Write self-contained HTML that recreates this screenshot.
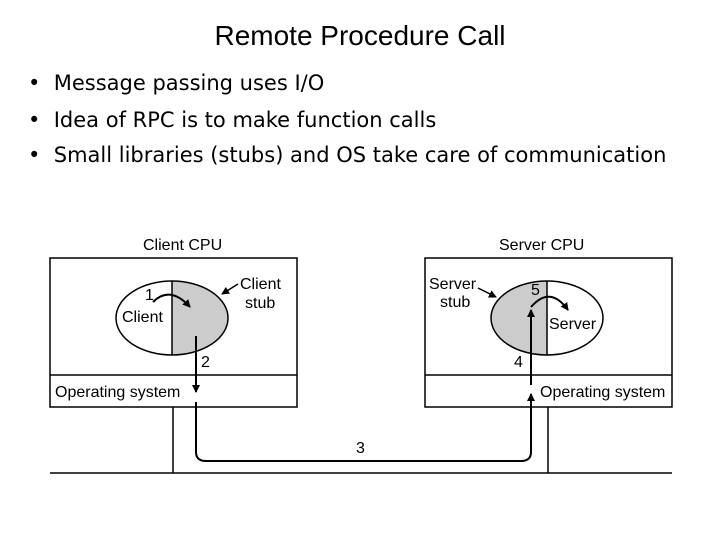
<!DOCTYPE html>
<html><head><style>
body{margin:0;background:#fff;width:720px;height:540px;overflow:hidden}
.t{position:absolute;font-family:"DejaVu Sans","Liberation Sans",sans-serif;color:#000}
.b{position:absolute;left:0;font-size:21px;white-space:nowrap}
</style></head><body>
<div class="t" style="left:0;width:720px;top:20px;text-align:center;font-size:28px;font-family:'Liberation Sans',sans-serif">Remote Procedure Call</div>
<div class="t" style="left:28px;top:71px;width:700px;font-family:'DejaVu Sans',sans-serif">
<div class="b" style="top:0">•&nbsp;&nbsp;Message passing uses I/O</div>
<div class="b" style="top:37px">•&nbsp;&nbsp;Idea of RPC is to make function calls</div>
<div class="b" style="top:72px">•&nbsp;&nbsp;Small libraries (stubs) and OS take care of communication</div>
</div>
<svg width="720" height="540" style="position:absolute;left:0;top:0" font-family="Liberation Sans, sans-serif" font-size="16">
<defs><marker id="a" markerWidth="8" markerHeight="8" refX="7" refY="4" orient="auto" markerUnits="userSpaceOnUse"><path d="M0,0 L8,4 L0,8 z"/></marker></defs>
<g fill="none" stroke="#000" stroke-width="1.5">
<rect x="50" y="258" width="247" height="149"/><line x1="50" y1="375" x2="297" y2="375"/>
<rect x="425" y="258" width="247" height="149"/><line x1="425" y1="375" x2="672" y2="375"/>
<line x1="173" y1="407" x2="173" y2="473"/><line x1="548" y1="407" x2="548" y2="473"/>
<line x1="50" y1="473" x2="672" y2="473"/>
</g>
<path d="M172,281 A56,37 0 0 1 172,355 Z" fill="#ccc"/>
<ellipse cx="172" cy="318" rx="56" ry="37" fill="none" stroke="#000" stroke-width="1.5"/>
<line x1="172" y1="281" x2="172" y2="355" stroke="#000" stroke-width="1.5"/>
<path d="M547,281 A56,37 0 0 0 547,355 Z" fill="#ccc"/>
<ellipse cx="547" cy="318" rx="56" ry="37" fill="none" stroke="#000" stroke-width="1.5"/>
<line x1="547" y1="281" x2="547" y2="355" stroke="#000" stroke-width="1.5"/>
<g fill="none" stroke="#000" stroke-width="2">
<path d="M153,302 Q170,285 190,307" marker-end="url(#a)"/>
<path d="M531,307 Q550,285 568,310" marker-end="url(#a)"/>
<line x1="196" y1="336" x2="196" y2="392" marker-end="url(#a)"/>
<path d="M196,402 L196,452 Q196,461 206,461 L521,461 Q531,461 531,452 L531,394" marker-end="url(#a)"/>
<line x1="531" y1="385" x2="531" y2="310" marker-end="url(#a)"/>
<line x1="238" y1="284" x2="222" y2="294" stroke-width="1.5" marker-end="url(#a)"/>
<line x1="478" y1="288" x2="496" y2="297" stroke-width="1.5" marker-end="url(#a)"/>
</g>
<text x="143" y="250">Client CPU</text>
<text x="499" y="250">Server CPU</text>
<text x="145" y="300">1</text>
<text x="122" y="322">Client</text>
<text x="240" y="289">Client</text>
<text x="245" y="308">stub</text>
<text x="201" y="367">2</text>
<text x="55" y="397">Operating system</text>
<text x="356" y="453">3</text>
<text x="429" y="289">Server</text>
<text x="440" y="307">stub</text>
<text x="531" y="295">5</text>
<text x="549" y="329">Server</text>
<text x="514" y="367">4</text>
<text x="540" y="397">Operating system</text>
</svg>
</body></html>
